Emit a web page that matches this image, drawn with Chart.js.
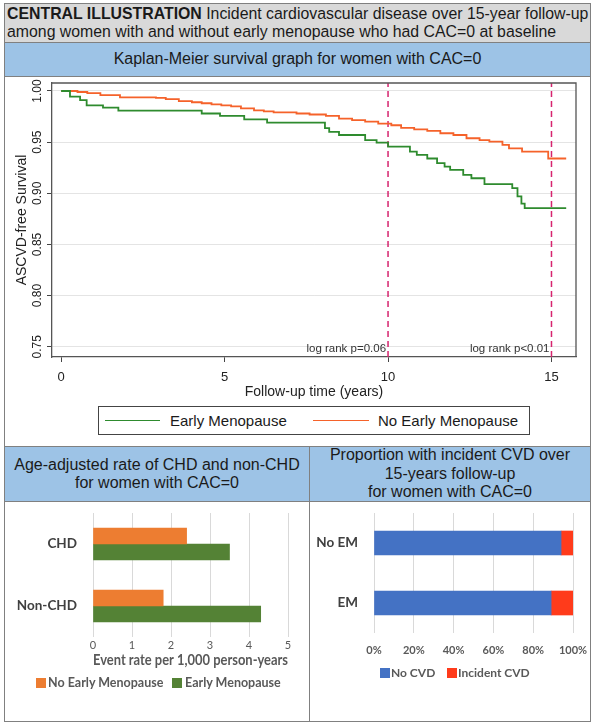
<!DOCTYPE html>
<html lang="en">
<head>
<meta charset="UTF-8">
<title>Central Illustration</title>
<script src="https://cdn.jsdelivr.net/npm/chart.js"></script>
<style>
  body { margin: 0; width: 593px; height: 723px; position: relative; overflow: hidden; background: #fff;
         font-family: "Liberation Sans", Arial, sans-serif; color: #1a1a1a; }
  .box { position: absolute; box-sizing: border-box; border: 1.5px solid #808080; }
  .banner { background: #9dc3e6; text-align: center; font-size: 16px; line-height: 18.5px;
            display: flex; align-items: center; justify-content: center; }
  canvas { position: absolute; }
  .kmlegend { position: absolute; left: 98px; top: 406px; width: 432px; height: 29px; box-sizing: border-box;
              border: 1px solid #444; font-size: 15px; }
  .kmlegend span { position: absolute; top: 5px; }
  .kmlegend i { position: absolute; top: 13px; height: 0; border-top: 1.8px solid; }
  .barlegend { position: absolute; font-family: Lato, "Open Sans", sans-serif; font-weight: bold;
               color: #595959; white-space: nowrap; }
  .barlegend b { position: absolute; width: 10px; height: 10px; top: -5px; }
  .barlegend span { position: absolute; top: -8px; }
</style>
</head>
<body>
<div class="box" style="left:4px;top:3px;width:587px;height:40px;background:#d9d9d9;padding:1px 2px;font-size:15.85px;line-height:18px;white-space:nowrap;">
  <b>CENTRAL ILLUSTRATION</b> Incident cardiovascular disease over 15-year follow-up<br>among women with and without early menopause who had CAC=0 at baseline
</div>
<div class="box banner" style="left:4px;top:42px;width:587px;height:35px;">Kaplan-Meier survival graph for women with CAC=0</div>
<div class="box" style="left:4px;top:76px;width:587px;height:371px;"></div>
<div class="box banner" style="left:4px;top:446px;width:306px;height:56px;">Age-adjusted rate of CHD and non-CHD<br>for women with CAC=0</div>
<div class="box banner" style="left:309px;top:446px;width:282px;height:56px;">Proportion with incident CVD over<br>15-years follow-up<br>for women with CAC=0</div>
<div class="box" style="left:4px;top:501px;width:306px;height:221px;"></div>
<div class="box" style="left:309px;top:501px;width:282px;height:221px;"></div>

<canvas id="km" width="585" height="328" style="left:5px;top:77px;"></canvas>
<div class="kmlegend">
  <i style="left:6px;width:55px;border-color:#2e8b2e;"></i><span style="left:71px;">Early Menopause</span>
  <i style="left:214px;width:56px;border-color:#f5622a;"></i><span style="left:279px;">No Early Menopause</span>
</div>

<canvas id="rate" width="304" height="219" style="left:5px;top:502px;"></canvas>
<div class="barlegend" style="left:0;top:683px;font-size:12.5px;">
  <b style="left:36px;background:#ed7d31;"></b><span style="left:48px;">No Early Menopause</span>
  <b style="left:172px;background:#548235;"></b><span style="left:185px;">Early Menopause</span>
</div>

<canvas id="prop" width="280" height="219" style="left:310px;top:502px;"></canvas>
<div class="barlegend" style="left:0;top:673px;font-size:12px;">
  <b style="left:380px;background:#4472c4;"></b><span style="left:391px;">No CVD</span>
  <b style="left:447px;background:#ff3b1b;"></b><span style="left:458px;">Incident CVD</span>
</div>

<script>
// Kaplan-Meier curves: event times (years) and survival after each step
const emTime = [0, 0.27, 0.58, 0.78, 1.28, 1.75, 4.3, 4.86, 5.6, 6.3, 8.07, 8.2, 8.5, 9.3, 9.65, 10.0,
                10.67, 10.88, 11.2, 11.5, 11.73, 11.9, 12.3, 12.55, 12.95, 13.8, 13.96, 14.08, 14.18, 15.45];
const emSurv = [1.0, 0.9944, 0.991, 0.986, 0.9837, 0.9808, 0.978, 0.9756, 0.9723, 0.969, 0.9636, 0.960, 0.957, 0.952, 0.9495, 0.9456,
                0.9407, 0.9375, 0.934, 0.9294, 0.926, 0.9229, 0.918, 0.9147, 0.909, 0.905, 0.897, 0.890, 0.8855, 0.8855];
const noEmTime = [0, 0.5, 0.8, 1.2, 1.8, 2.9, 3.2, 3.6, 4.0, 4.3, 4.6, 4.9, 5.2, 5.5, 5.9, 6.2, 6.5, 7.2, 7.6,
                  8.1, 8.5, 8.9, 9.3, 9.7, 10.1, 10.4, 10.8, 11.2, 11.6, 12.0, 12.4, 12.8, 13.1, 13.5, 13.7, 14.1, 14.9, 15.45];
const noEmSurv = [1.0, 0.999, 0.998, 0.996, 0.9938, 0.9932, 0.992, 0.990, 0.989, 0.988, 0.987, 0.986, 0.985, 0.983, 0.981, 0.980, 0.979, 0.978, 0.977,
                  0.9756, 0.973, 0.9715, 0.970, 0.968, 0.9665, 0.964, 0.9625, 0.961, 0.9587, 0.957, 0.9538, 0.952, 0.9505, 0.9473, 0.944, 0.9407, 0.934, 0.934];
const kmXTicks = [0, 5, 10, 15];
const kmYTicks = [0.75, 0.80, 0.85, 0.90, 0.95, 1.00];
const refYears = [10, 15];
const logRankText = ['log rank p=0.06', 'log rank p<0.01'];

// age-adjusted event rate per 1,000 person-years
const rateCats = ['CHD', 'Non-CHD'];
const rateNoEM = [2.4, 1.8];
const rateEM = [3.5, 4.3];

// proportion with incident CVD (%)
const propCats = ['No EM', 'EM'];
const propNoCVD = [94, 89];
const propCVD = [6, 11];

Chart.defaults.font.family = '"Liberation Sans", Arial, sans-serif';
Chart.defaults.animation = false;

const KM_MIN = 0.74, KM_MAX = 1.0078;
const pts = (xs, ys) => xs.map((x, i) => ({ x: x, y: ys[i] }));

// frame, rotated y labels and log-rank notes
const kmDecor = {
  id: 'kmDecor',
  afterDraw(chart) {
    const { ctx, chartArea: a, scales: { x, y } } = chart;
    ctx.save();
    ctx.strokeStyle = '#555';
    ctx.lineWidth = 1.3;
    ctx.beginPath();
    ctx.moveTo(a.left, a.top); ctx.lineTo(a.right, a.top); ctx.lineTo(a.right, a.bottom);
    ctx.stroke();
    ctx.fillStyle = '#222';
    ctx.font = '12px "Liberation Sans", Arial';
    ctx.textAlign = 'center';
    ctx.textBaseline = 'middle';
    y.ticks.forEach(t => {
      ctx.save();
      ctx.translate(33, y.getPixelForValue(t.value));
      ctx.rotate(-Math.PI / 2);
      ctx.fillText(t.value.toFixed(2), 0, 0);
      ctx.restore();
    });
    ctx.font = '11.5px "Liberation Sans", Arial';
    ctx.fillStyle = '#333';
    ctx.textAlign = 'right';
    refYears.forEach((yr, i) => {
      ctx.fillText(logRankText[i], x.getPixelForValue(yr) - 2, a.bottom - 8);
    });
    ctx.restore();
  }
};

new Chart(document.getElementById('km'), {
  type: 'line',
  data: {
    datasets: [
      { label: 'Early Menopause', data: pts(emTime, emSurv), borderColor: '#2e8b2e', borderWidth: 1.8,
        stepped: 'before', pointRadius: 0 },
      { label: 'No Early Menopause', data: pts(noEmTime, noEmSurv), borderColor: '#f5622a', borderWidth: 1.8,
        stepped: 'before', pointRadius: 0 }
    ].concat(refYears.map(yr => ({
      label: 'ref', data: [{ x: yr, y: KM_MIN }, { x: yr, y: KM_MAX }], borderColor: '#d6246e',
      borderDash: [6, 4], borderWidth: 1.5, pointRadius: 0
    })))
  },
  options: {
    responsive: false,
    layout: { padding: { top: 6, right: 14, left: 0, bottom: 0 } },
    plugins: { legend: { display: false }, tooltip: { enabled: false } },
    scales: {
      x: {
        type: 'linear', min: -0.28, max: 15.75,
        afterBuildTicks: s => { s.ticks = kmXTicks.map(v => ({ value: v })); },
        afterFit: s => { s.height = 48; },
        grid: { drawOnChartArea: false, tickLength: 5, tickColor: '#444' },
        border: { color: '#555', width: 1.3 },
        ticks: { font: { size: 13 }, color: '#222', padding: 8 },
        title: { display: true, text: 'Follow-up time (years)', font: { size: 14 }, color: '#222',
                 padding: { top: 0, bottom: 4 } }
      },
      y: {
        min: KM_MIN, max: KM_MAX,
        afterBuildTicks: s => { s.ticks = kmYTicks.map(v => ({ value: v })); },
        afterFit: s => { s.width = 47; },
        grid: { color: '#e4e4e4', tickLength: 5, tickColor: '#444' },
        border: { color: '#555', width: 1.3 },
        ticks: { display: false },
        title: { display: true, text: 'ASCVD-free Survival', font: { size: 14 }, color: '#222',
                 padding: { top: 9, bottom: 0 } }
      }
    }
  },
  plugins: [kmDecor]
});

const calibri = 'Lato, "Open Sans", sans-serif';
// invisible tick marks give label offsets without adding layout padding
const catGrid = gap => ({ display: true, drawOnChartArea: false, tickLength: gap, tickColor: 'transparent' });

new Chart(document.getElementById('rate'), {
  type: 'bar',
  data: {
    labels: rateCats,
    datasets: [
      { label: 'No Early Menopause', data: rateNoEM, backgroundColor: '#ed7d31', barThickness: 16 },
      { label: 'Early Menopause', data: rateEM, backgroundColor: '#548235', barThickness: 16 }
    ]
  },
  options: {
    indexAxis: 'y',
    responsive: false,
    layout: { padding: { top: 11, right: 21, left: 0, bottom: 51 } },
    plugins: { tooltip: { enabled: false }, legend: { display: false } },
    scales: {
      x: {
        min: 0, max: 5,
        afterFit: s => { s.height = 33; },
        grid: { color: '#d9d9d9', tickLength: 2, tickColor: 'transparent' },
        border: { display: false },
        ticks: { stepSize: 1, padding: 0, color: '#595959', font: { family: calibri, size: 11 } },
        title: { display: true, text: 'Event rate per 1,000 person-years', color: '#595959',
                 font: { family: calibri, size: 15.5, weight: 'bold' }, padding: { top: 0, bottom: 1 } }
      },
      y: {
        afterFit: s => { s.width = 88; },
        grid: catGrid(16),
        border: { display: false },
        ticks: { padding: 0, color: '#404040', font: { family: calibri, size: 13.5, weight: 'bold' } }
      }
    }
  }
});

new Chart(document.getElementById('prop'), {
  type: 'bar',
  data: {
    labels: propCats,
    datasets: [
      { label: 'No CVD', data: propNoCVD, backgroundColor: '#4472c4', barThickness: 24 },
      { label: 'Incident CVD', data: propCVD, backgroundColor: '#ff3b1b', barThickness: 24 }
    ]
  },
  options: {
    indexAxis: 'y',
    responsive: false,
    layout: { padding: { top: 11, right: 17, left: 0, bottom: 58 } },
    plugins: { tooltip: { enabled: false }, legend: { display: false } },
    scales: {
      x: {
        stacked: true, min: 0, max: 100,
        afterFit: s => { s.height = 30; },
        grid: { color: '#d9d9d9', tickLength: 11, tickColor: 'transparent' },
        border: { display: false },
        ticks: { stepSize: 20, padding: 0, color: '#595959', callback: v => v + '%',
                 font: { family: calibri, size: 11, weight: 'bold' } }
      },
      y: {
        stacked: true,
        afterFit: s => { s.width = 64; },
        grid: catGrid(16),
        border: { display: false },
        ticks: { padding: 0, color: '#404040', font: { family: calibri, size: 13.5, weight: 'bold' } }
      }
    }
  }
});
</script>
</body>
</html>
